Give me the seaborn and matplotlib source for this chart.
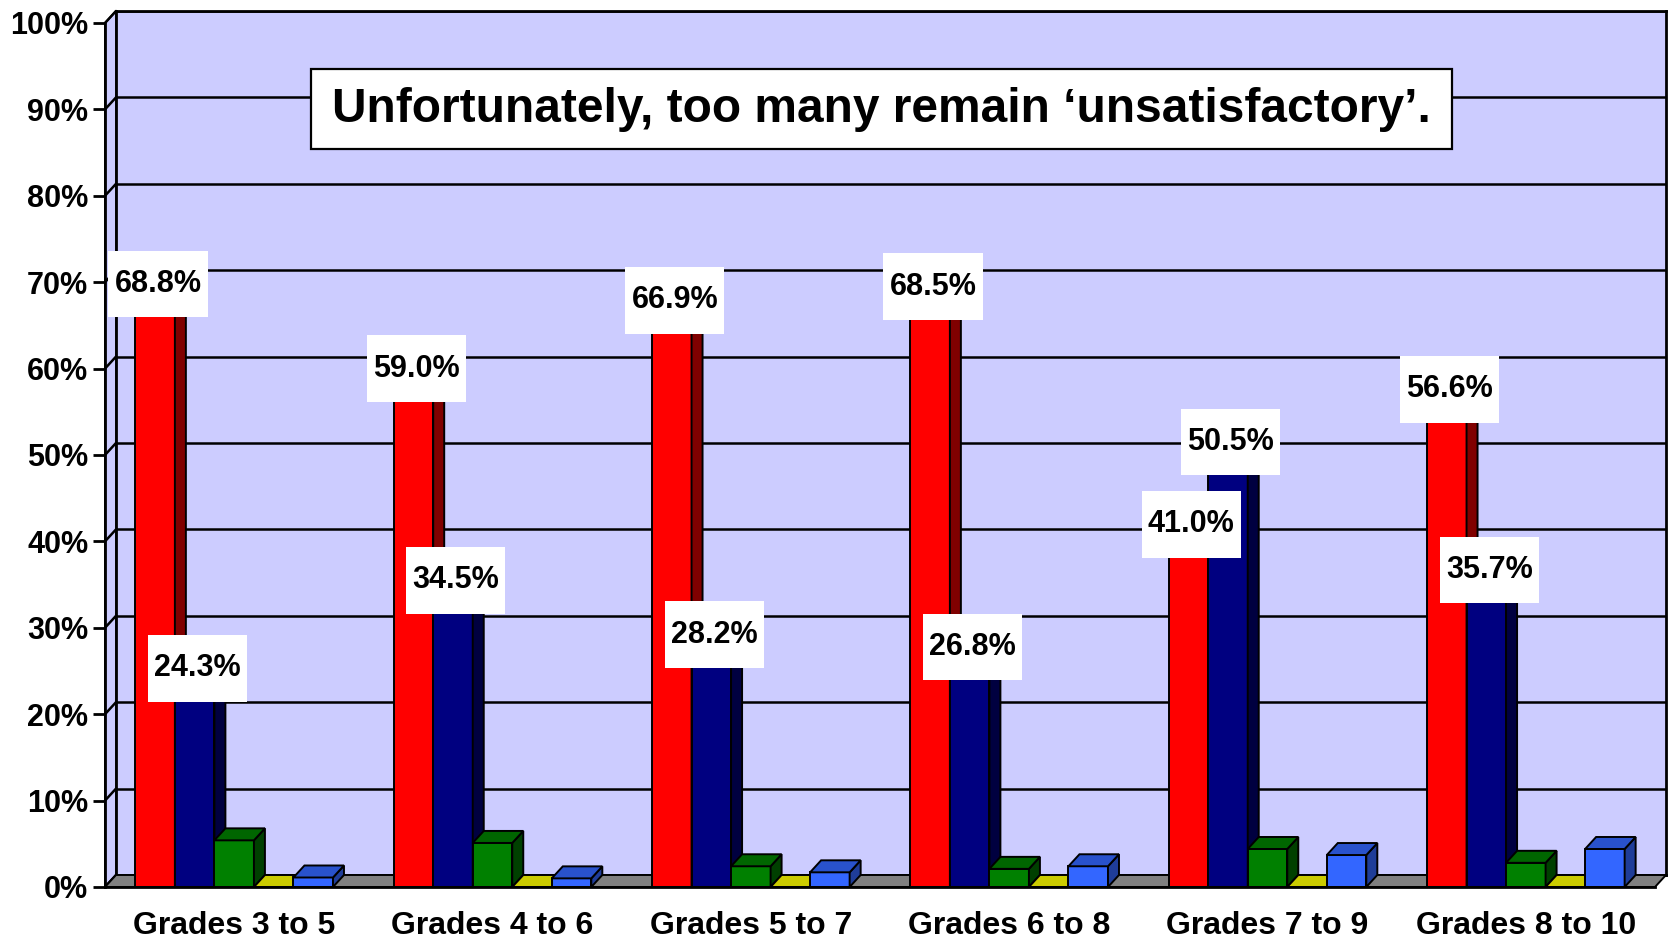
import pandas as pd
import matplotlib
matplotlib.use("Agg")
import matplotlib.pyplot as plt
import matplotlib.colors as mcolors
from matplotlib.patches import Polygon, Rectangle
from matplotlib.path import Path
import seaborn as sns

grades = ["Grades 3 to 5", "Grades 4 to 6", "Grades 5 to 7",
          "Grades 6 to 8", "Grades 7 to 9", "Grades 8 to 10"]
levels = ["Unsatisfactory", "Satisfactory", "Good", "Very good", "Excellent"]
unsatisfactory = [68.8, 59.0, 66.9, 68.5, 41.0, 56.6]
satisfactory = [24.3, 34.5, 28.2, 26.8, 50.5, 35.7]
good = [5.4, 5.1, 2.4, 2.1, 4.4, 2.8]
very_good = [0.0, 0.0, 0.0, 0.0, 0.0, 0.0]
excellent = [1.1, 1.0, 1.7, 2.4, 3.7, 4.4]
labelled = ["Unsatisfactory", "Satisfactory"]
title = "Unfortunately, too many remain \u2018unsatisfactory\u2019."

front_cols = ["#FF0000", "#000080", "#008000", "#CCCC00", "#3366FF"]
side_cols = ["#800000", "#000040", "#004000", "#666600", "#1F3D99"]
top_cols = ["#CC0000", "#000066", "#006600", "#CCCC00", "#2952CC"]

rows = []
for lev, vals in zip(levels, [unsatisfactory, satisfactory, good, very_good, excellent]):
    for g, v in zip(grades, vals):
        rows.append({"grade": g, "level": lev, "value": v})
df = pd.DataFrame(rows)

sns.set_style("white")
plt.rcParams["font.family"] = ["Liberation Sans", "DejaVu Sans"]
plt.rcParams["font.weight"] = "bold"
plt.rcParams["text.color"] = "black"
plt.rcParams["xtick.color"] = "black"
plt.rcParams["ytick.color"] = "black"

W, H = 1671, 943
x0, x1, ytop, y0 = 105, 1655, 23, 887
dx, dy = 11, 12

fig = plt.figure(figsize=(W / 100, H / 100), dpi=100)
fig.patch.set_facecolor("white")

# back wall
axb = fig.add_axes([(x0 + dx) / W, (H - y0 + dy) / H, (x1 - x0) / W, (y0 - ytop) / H])
axb.set_facecolor("#CCCCFF")
axb.set_xlim(0, 1)
axb.set_ylim(0, 100)
axb.set_yticks(range(0, 101, 10))
axb.set_xticks([])
axb.yaxis.grid(True, color="black", lw=1.8)
axb.tick_params(length=0, labelleft=False, labelbottom=False)
for s in axb.spines.values():
    s.set_color("black")
    s.set_linewidth(2)

# front plane
ax = fig.add_axes([x0 / W, (H - y0) / H, (x1 - x0) / W, (y0 - ytop) / H])
ax.set_facecolor("none")
sns.barplot(data=df, x="grade", y="value", hue="level", hue_order=levels,
            palette=front_cols, width=0.765, saturation=1, edgecolor="black",
            linewidth=1.4, legend=False, ax=ax)
ax.set_xlim(-0.5, 5.5)
ax.set_ylim(0, 100)
bars = sorted([p for p in ax.patches if isinstance(p, Rectangle)], key=lambda p: p.get_x())

sx = (x1 - x0) / 6.0
sy = (y0 - ytop) / 100.0
ddx, ddy = dx / sx, dy / sy

# floor and side wall
ax.add_patch(Polygon([(-0.5, 0), (5.5, 0), (5.5 + ddx, ddy), (-0.5 + ddx, ddy)],
                     closed=True, fc="#808080", ec="black", lw=1.4, clip_on=False, zorder=1))
ax.add_patch(Polygon([(-0.5, 0), (-0.5 + ddx, ddy), (-0.5 + ddx, 100 + ddy), (-0.5, 100)],
                     closed=True, fc="#CCCCFF", ec="black", lw=1.4, clip_on=False, zorder=0.5))
for t in range(0, 101, 10):
    ax.plot([-0.5, -0.5 + ddx], [t, t + ddy], color="black", lw=1.8,
            clip_on=False, zorder=0.6)

# 3D faces of the bars
hexes = [mcolors.to_hex(c) for c in front_cols]
labels_to_draw = []
for k, p in enumerate(bars):
    i = hexes.index(mcolors.to_hex(p.get_facecolor()))
    bx, bw, bh = p.get_x(), p.get_width(), p.get_height()
    z = 2 + k * 0.01
    p.set_zorder(z)
    ax.add_patch(Polygon([(bx + bw, 0), (bx + bw, bh), (bx + bw + ddx, bh + ddy), (bx + bw + ddx, ddy)],
                         closed=True, fc=side_cols[i], ec="black", lw=1.4, zorder=z, clip_on=False))
    ax.add_patch(Polygon([(bx, bh), (bx + bw, bh), (bx + bw + ddx, bh + ddy), (bx + ddx, bh + ddy)],
                         closed=True, fc=top_cols[i], ec="black", lw=1.4, zorder=z, clip_on=False))
    if levels[i] in labelled:
        labels_to_draw.append((bx + bw / 2 + ddx / 2 - 0.01, bh + ddy / 2 + 0.3, bh))


def make_box(fx, fy):
    def box(bx0, by0, width, height, mutation_size):
        px, py = fx * mutation_size, fy * mutation_size
        verts = [(bx0 - px, by0 - py), (bx0 + width + px, by0 - py),
                 (bx0 + width + px, by0 + height + py), (bx0 - px, by0 + height + py),
                 (bx0 - px, by0 - py)]
        return Path(verts, [Path.MOVETO, Path.LINETO, Path.LINETO, Path.LINETO, Path.CLOSEPOLY])
    return box


for lx, ly, v in labels_to_draw:
    ax.text(lx, ly, f"{v:.1f}%", ha="center", va="center", fontsize=22,
            fontweight="bold", zorder=10,
            bbox=dict(boxstyle=make_box(0.2, 0.6), fc="white", ec="none"))

# axes styling
ax.set_yticks(range(0, 101, 10))
ax.set_yticklabels([f"{t}%" for t in range(0, 101, 10)], fontsize=22, fontweight="bold")
ax.set_xticks(range(6))
ax.set_xticklabels(grades, fontsize=23, fontweight="bold")
ax.set_xticks([i - 0.5 for i in range(7)], minor=True)
ax.tick_params(axis="x", which="major", length=0, pad=17)
ax.tick_params(axis="x", which="minor", length=9, width=2, color="black", direction="out")
ax.tick_params(axis="y", length=9, width=2, color="black", direction="out", pad=3, left=True)
ax.set_xlabel("")
ax.set_ylabel("")
for s in ["top", "right"]:
    ax.spines[s].set_visible(False)
for s in ["left", "bottom"]:
    ax.spines[s].set_color("black")
    ax.spines[s].set_linewidth(2)
    ax.spines[s].set_zorder(20)

fig.text(881.5 / W, 1 - 109 / H, title, ha="center", va="center", fontsize=34.5,
         fontweight="bold", zorder=30,
         bbox=dict(boxstyle=make_box(0.45, 0.36), fc="white", ec="black", lw=1.6))

fig.savefig("out.png", dpi=100)
